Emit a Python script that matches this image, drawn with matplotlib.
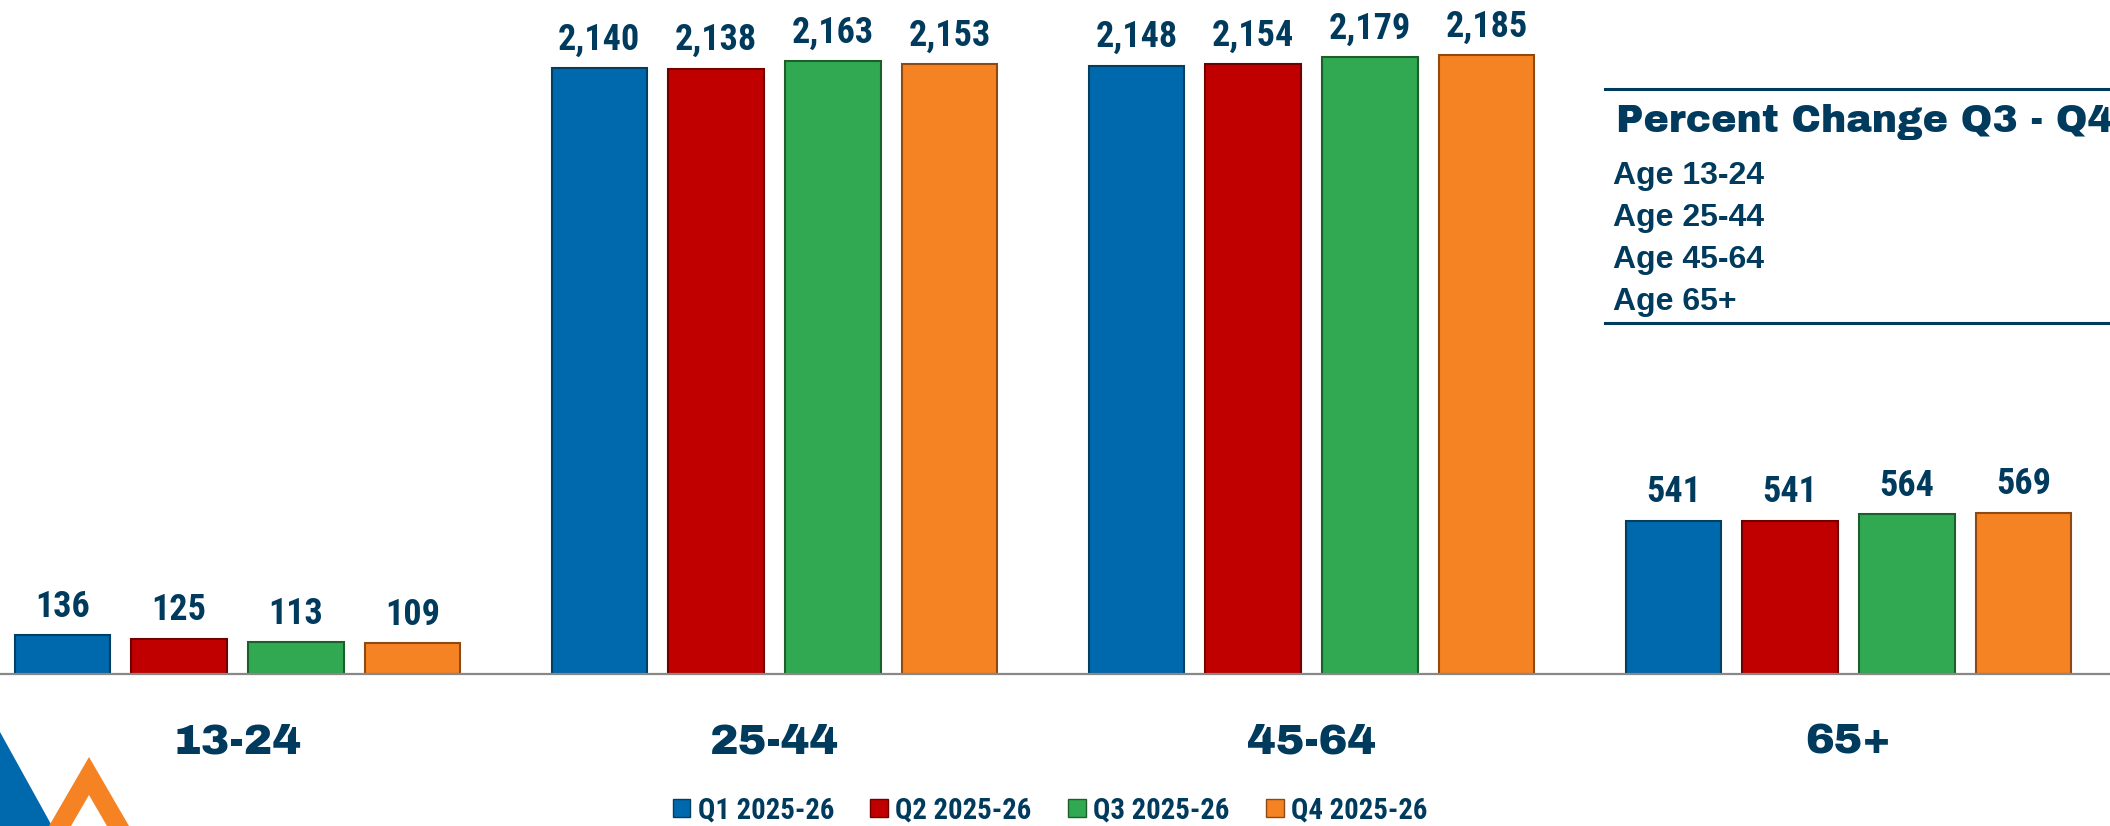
import matplotlib
matplotlib.use('Agg')
from matplotlib import pyplot as plt
from matplotlib import font_manager
from matplotlib.patches import Polygon, Patch
import numpy as np

# 数据
groups = ['13-24', '25-44', '45-64', '65+']
quarters = ['Q1 2025-26', 'Q2 2025-26', 'Q3 2025-26', 'Q4 2025-26']
q1 = [136, 2140, 2148, 541]
q2 = [125, 2138, 2154, 541]
q3 = [113, 2163, 2179, 564]
q4 = [109, 2153, 2185, 569]
table_title = 'Percent Change Q3 - Q4'
table_rows = ['Age 13-24', 'Age 25-44', 'Age 45-64', 'Age 65+']

colors = ['#0068AC', '#C00000', '#31A952', '#F58323']
edges = ['#003F5F', '#700000', '#1D5E2D', '#8E4A12']
navy = '#003A5D'

# 字体：窄体 ~ Arial Narrow，粗黑体 ~ Arial Black
narrow = ['Roboto Condensed', 'DejaVu Sans']
heavy = ['Archivo Black', 'DejaVu Sans']
W, H = 2110, 826

fig = plt.figure(figsize=(W / 100, H / 100), dpi=100)
ax = fig.add_axes([0, (H - 674) / H, 1, 674 / H])

x = np.arange(len(groups))
step = 0.2173
width = 0.178
for i, vals in enumerate([q1, q2, q3, q4]):
    pos = x + (i - 1.5) * step
    ax.bar(pos, vals, width, color=colors[i], edgecolor=edges[i], linewidth=1.5,
           label=quarters[i])
    for px, v in zip(pos, vals):
        ax.annotate(f'{v:,}', (px, v), xytext=(0, 13.3), textcoords='offset points',
                    ha='center', va='baseline', fontsize=26, fontweight='bold',
                    family=narrow, color=navy)

ax.set_xlim(-0.442, 3.487)
ax.set_ylim(0, 674 / 0.2832)
for s in ['top', 'left', 'right']:
    ax.spines[s].set_visible(False)
ax.spines['bottom'].set_color('#888888')
ax.spines['bottom'].set_linewidth(1.6)
ax.set_yticks([])
ax.set_xticks(x, groups)
ax.tick_params(axis='x', length=0, pad=57)
for lbl in ax.get_xticklabels():
    lbl.set_va('baseline')
    lbl.set_fontsize(31)
    lbl.set_family(heavy)
    lbl.set_color(navy)

# 右侧表格
fig.add_artist(plt.Line2D([1605 / W, 1], [1 - 88.7 / H] * 2, color=navy, lw=2.2))
fig.add_artist(plt.Line2D([1605 / W, 1], [1 - 323 / H] * 2, color=navy, lw=2.2))
fig.text(1616 / W, 1 - 132 / H, table_title, fontsize=27.4, family=heavy, color=navy,
         va='baseline')
for k, row in enumerate(table_rows):
    fig.text(1613 / W, 1 - (184 + 42 * k) / H, row, fontsize=23, fontweight='bold',
             family=['Liberation Sans', 'DejaVu Sans'], color=navy, va='baseline')

# 图例
handles = [Patch(facecolor=colors[i], edgecolor=edges[i], label=quarters[i]) for i in range(4)]
fig.legend(handles=handles, loc='center', bbox_to_anchor=(1050 / W, 1 - 810 / H), ncol=4,
           frameon=False, handlelength=0.62, handleheight=0.6, handletextpad=0.25,
           columnspacing=1.27, prop=font_manager.FontProperties(family=narrow, weight='bold', size=20.7),
           labelcolor=navy)

# 左下角标志
def px(pts):
    return [(a / W, 1 - b / H) for a, b in pts]

fig.add_artist(Polygon(px([(0, 732), (52, 826), (0, 826)]), closed=True,
                       transform=fig.transFigure, color='#0068AC', lw=0))
fig.add_artist(Polygon(px([(89, 757), (129, 826), (49, 826)]), closed=True,
                       transform=fig.transFigure, color='#F58323', lw=0))
fig.add_artist(Polygon(px([(89, 795), (107, 826), (71, 826)]), closed=True,
                       transform=fig.transFigure, color='white', lw=0))

fig.savefig('out.png', dpi=100)
